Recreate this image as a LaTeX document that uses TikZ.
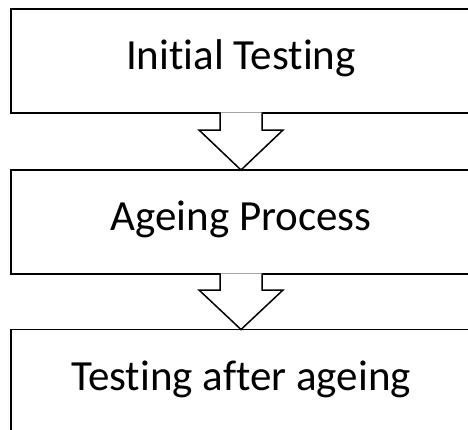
\documentclass[tikz,border=0pt]{standalone}
\usepackage{fontspec}
\setmainfont{Carlito}[RawFeature={-liga,-calt,-dlig}]

\begin{document}
\begin{tikzpicture}[x=1pt, y=-1pt]

\tikzset{stagebox/.style={draw, rectangle, line width=1.5pt, outer sep=0pt, minimum width=460pt, text height=28pt, text depth=12pt, font=\fontsize{43}{50}\selectfont}}
\tikzset{blockarrow/.style={draw, fill=white, line width=1.5pt, line join=miter}}

% page frame
\useasboundingbox (0,0) rectangle (468,429);
\clip (0,0) rectangle (468,429);

% the three stages
\node[stagebox, minimum height=104pt] at (241, 61) (init) {Initial Testing};
\node[stagebox, minimum height=104pt] at (241, 222) (ageing) {Ageing Process};
\node[stagebox, minimum height=105pt] at (241, 382) (after) {Testing after ageing};

% block arrows between stages
\draw[blockarrow] (init.south) ++(-21,-0.75) -- ++(0,17.75) -- ++(-21,0) -- (ageing.north) -- ++(42,-40) -- ++(-21,0) -- ++(0,-17.75);
\draw[blockarrow] (ageing.south) ++(-21,-0.75) -- ++(0,16.75) -- ++(-21,0) -- (after.north) -- ++(42,-39.5) -- ++(-21,0) -- ++(0,-16.75);

\end{tikzpicture}
\end{document}
